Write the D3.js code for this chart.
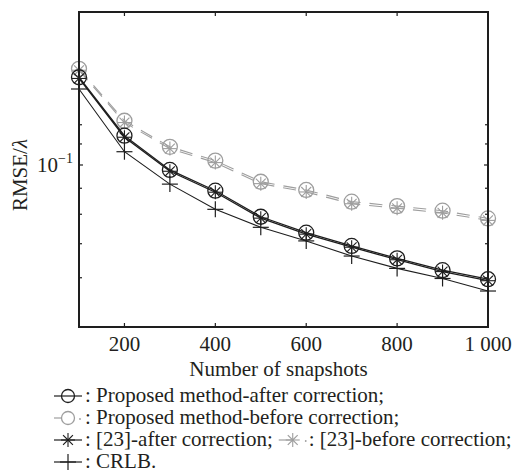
<!DOCTYPE html>
<html>
<head>
<meta charset="utf-8">
<script src="https://cdn.jsdelivr.net/npm/d3@7"></script>
<style>
  body { margin: 0; background: #fff; }
  text { font-family: "Liberation Serif", "Times New Roman", serif; fill: #231f20; }
</style>
</head>
<body>
<script>
const snapshots = [100, 200, 300, 400, 500, 600, 700, 800, 900, 1000]
const proposedAfter = [0.1488, 0.1142, 0.0978, 0.0890, 0.0791, 0.0736, 0.0693, 0.0655, 0.0621, 0.0596]
const proposedBefore = [0.1546, 0.1222, 0.1086, 0.1020, 0.0927, 0.0893, 0.0847, 0.0830, 0.0813, 0.0785]
const ref23After = [0.1480, 0.1134, 0.0972, 0.0884, 0.0786, 0.0731, 0.0689, 0.0651, 0.0617, 0.0592]
const ref23Before = [0.1536, 0.1212, 0.1077, 0.1011, 0.0919, 0.0885, 0.0839, 0.0822, 0.0805, 0.0778]
const crlb = [0.1411, 0.1062, 0.0917, 0.0818, 0.0754, 0.0709, 0.0662, 0.0626, 0.0598, 0.0565]
const xTicks = [200, 400, 600, 800, 1000]
const xTickLabels = ['200', '400', '600', '800', '1 000']
const yMinorTicks = [0.06, 0.07, 0.08, 0.09, 0.11, 0.12]

const W = 532, H = 476
const plot = { left: 79, right: 488, top: 12, bottom: 327 }
const black = '#1e1e1e', grey = '#9e9e9e'
const fs = 21

const svg = d3.select('body').append('svg')
  .attr('width', W)
  .attr('height', H)

const x = d3.scaleLinear().domain([100, 1000]).range([plot.left, plot.right])
const y = d3.scaleLog().domain([0.048, 0.2]).range([plot.bottom, plot.top])

// ticks (inward) on all four sides
const tk = svg.append('g').attr('stroke', black).attr('stroke-width', 1.2)
xTicks.slice(0, -1).forEach(v => {
  tk.append('line').attr('x1', x(v)).attr('x2', x(v)).attr('y1', plot.bottom).attr('y2', plot.bottom - 4)
  tk.append('line').attr('x1', x(v)).attr('x2', x(v)).attr('y1', plot.top).attr('y2', plot.top + 4)
})
yMinorTicks.concat([0.1]).forEach(v => {
  const len = v === 0.1 ? 4 : 3
  tk.append('line').attr('x1', plot.left).attr('x2', plot.left + len).attr('y1', y(v)).attr('y2', y(v))
  tk.append('line').attr('x1', plot.right).attr('x2', plot.right - len).attr('y1', y(v)).attr('y2', y(v))
})

// tick labels
svg.append('g').selectAll('text')
  .data(xTicks)
  .enter().append('text')
    .attr('x', d => x(d))
    .attr('y', 351)
    .attr('text-anchor', 'middle')
    .attr('font-size', fs)
    .text((d, i) => xTickLabels[i])

const ylab = svg.append('text').attr('x', 37).attr('y', y(0.1) + 7).attr('font-size', fs)
ylab.append('tspan').text('10')
ylab.append('tspan').attr('dy', -9).attr('font-size', 14).text('−1')

svg.append('text')
  .attr('transform', 'translate(27,' + 175 + ') rotate(-90)')
  .attr('text-anchor', 'middle')
  .attr('font-size', fs)
  .html('RMSE/<tspan font-style="italic">λ</tspan>')

svg.append('text')
  .attr('x', (plot.left + plot.right) / 2 - 5)
  .attr('y', 376)
  .attr('text-anchor', 'middle')
  .attr('font-size', fs)
  .text('Number of snapshots')

// marker drawers
const drawCircle = (g, cx, cy, r, color) => {
  g.append('circle').attr('cx', cx).attr('cy', cy).attr('r', r)
    .attr('fill', 'none').attr('stroke', color).attr('stroke-width', 1.3)
}
const drawStar = (g, cx, cy, r, color) => {
  d3.range(8).forEach(k => {
    const a = k * Math.PI / 4
    g.append('line').attr('x1', cx).attr('y1', cy)
      .attr('x2', cx + r * Math.cos(a)).attr('y2', cy + r * Math.sin(a))
      .attr('stroke', color).attr('stroke-width', 1.1)
  })
}
const drawPlus = (g, cx, cy, r, color) => {
  g.append('line').attr('x1', cx - r).attr('x2', cx + r).attr('y1', cy).attr('y2', cy)
    .attr('stroke', color).attr('stroke-width', 1.2)
  g.append('line').attr('x1', cx).attr('x2', cx).attr('y1', cy - r).attr('y2', cy + r)
    .attr('stroke', color).attr('stroke-width', 1.2)
}

const series = [
  { values: ref23Before, color: grey, dash: '13,9', width: 1.1, marker: drawStar, size: 7 },
  { values: proposedBefore, color: grey, dash: '13,9', width: 1.1, marker: drawCircle, size: 7.5 },
  { values: crlb, color: black, dash: null, width: 1.1, marker: drawPlus, size: 8 },
  { values: ref23After, color: black, dash: null, width: 1.3, marker: drawStar, size: 7 },
  { values: proposedAfter, color: black, dash: null, width: 1.3, marker: drawCircle, size: 7.5 }
]

const line = d3.line().x(d => x(d[0])).y(d => y(d[1]))

series.forEach(s => {
  const pts = snapshots.map((v, i) => [v, s.values[i]])
  svg.append('path')
    .datum(pts)
    .attr('d', line)
    .attr('fill', 'none')
    .attr('stroke', s.color)
    .attr('stroke-width', s.width)
    .attr('stroke-dasharray', s.dash)
  const g = svg.append('g')
  pts.forEach(p => s.marker(g, x(p[0]), y(p[1]), s.size, s.color))
})

// frame
svg.append('rect')
  .attr('x', plot.left).attr('y', plot.top)
  .attr('width', plot.right - plot.left).attr('height', plot.bottom - plot.top)
  .attr('fill', 'none').attr('stroke', black).attr('stroke-width', 2)

// legend
const legendRows = [396, 418, 440, 462]
const lg = svg.append('g')
const legLine = (x1, x2, yy, color) => lg.append('line').attr('x1', x1).attr('x2', x2)
  .attr('y1', yy).attr('y2', yy).attr('stroke', color).attr('stroke-width', 1.2)
const legText = (tx, yy, str) => lg.append('text').attr('x', tx).attr('y', yy + 6).attr('font-size', fs).text(str)

legLine(54, 82, legendRows[0], black)
drawCircle(lg, 68, legendRows[0], 6.5, black)
legText(85, legendRows[0], ': Proposed method-after correction;')

legLine(54, 62, legendRows[1], grey)
drawCircle(lg, 68, legendRows[1], 6.5, grey)
lg.append('circle').attr('cx', 80).attr('cy', legendRows[1] + 1).attr('r', 0.9).attr('fill', grey)
legText(85, legendRows[1], ': Proposed method-before correction;')

legLine(54, 82, legendRows[2], black)
drawStar(lg, 68, legendRows[2], 7, black)
const t3 = legText(85, legendRows[2], ': [23]-after correction;')
const sx = 85 + t3.node().getComputedTextLength() + 6
legLine(sx, sx + 14, legendRows[2], grey)
drawStar(lg, sx + 14, legendRows[2], 7, grey)
lg.append('circle').attr('cx', sx + 27).attr('cy', legendRows[2] + 1).attr('r', 0.9).attr('fill', grey)
legText(sx + 30, legendRows[2], ': [23]-before correction;')

legLine(54, 82, legendRows[3], black)
drawPlus(lg, 68, legendRows[3], 8, black)
legText(85, legendRows[3], ': CRLB.')
</script>
</body>
</html>
